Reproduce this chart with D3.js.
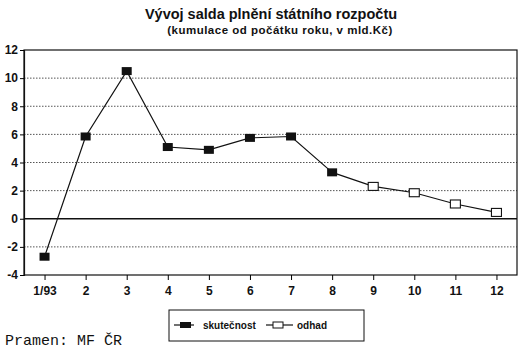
<!DOCTYPE html>
<html>
<head>
<meta charset="utf-8">
<script src="https://cdn.jsdelivr.net/npm/d3@7"></script>
<style>
  body { margin: 0; background: #fff; }
  svg { display: block; }
  text { font-family: "Liberation Sans", Arial, sans-serif; font-weight: bold; fill: #111; }
</style>
</head>
<body>
<div id="chart"></div>
<script>
// --- dati ---
const months = ["1/93","2","3","4","5","6","7","8","9","10","11","12"];
const actualMonths = ["1/93","2","3","4","5","6","7","8"];
const actualValues = [-2.7, 5.85, 10.5, 5.1, 4.9, 5.75, 5.85, 3.3];
const estMonths = ["8","9","10","11","12"];
const estValues = [3.3, 2.3, 1.85, 1.05, 0.45];
const yTicks = [-4, -2, 0, 2, 4, 6, 8, 10, 12];

const W = 521, H = 352;
const margin = { top: 50, right: 4, bottom: 77, left: 24 };
const innerW = W - margin.left - margin.right;
const innerH = H - margin.top - margin.bottom;

const svg = d3.select("#chart").append("svg").attr("width", W).attr("height", H);

// titoli
svg.append("text").attr("x", 271).attr("y", 19).attr("text-anchor", "middle")
  .style("font-size", "14.5px").text("Vývoj salda plnění státního rozpočtu");
svg.append("text").attr("x", 280).attr("y", 34).attr("text-anchor", "middle")
  .style("font-size", "11.5px").style("letter-spacing", "0.5px")
  .text("(kumulace od počátku roku, v mld.Kč)");

const g = svg.append("g").attr("transform", `translate(${margin.left},${margin.top})`);

const x = d3.scalePoint().domain(months).range([0, innerW]).padding(0.5);
const y = d3.scaleLinear().domain([-4, 12]).range([innerH, 0]);

// griglia punteggiata
g.selectAll(".grid").data(yTicks.filter(d => d !== 0 && d !== 12 && d !== -4)).enter()
  .append("line")
  .attr("x1", 0).attr("x2", innerW)
  .attr("y1", d => y(d)).attr("y2", d => y(d))
  .attr("stroke", "#555").attr("stroke-width", 1).attr("stroke-dasharray", "1.5,1.5");

// linea dello zero
g.append("line").attr("x1", 0).attr("x2", innerW).attr("y1", y(0)).attr("y2", y(0))
  .attr("stroke", "#111").attr("stroke-width", 1.3);

// cornice
g.append("rect").attr("width", innerW).attr("height", innerH)
  .attr("fill", "none").attr("stroke", "#111").attr("stroke-width", 1.2);

// asse y (trattino normale invece del segno meno)
const yAxis = g.append("g").call(d3.axisLeft(y).tickValues(yTicks)
  .tickFormat(d => String(d)).tickSize(4).tickPadding(2));
yAxis.select(".domain").attr("stroke", "#111").attr("stroke-width", 1.2);
yAxis.selectAll("text").style("font-size", "12px").style("font-family", "'Liberation Sans', Arial, sans-serif");

// asse x
const xAxis = g.append("g").attr("transform", `translate(0,${innerH})`)
  .call(d3.axisBottom(x).tickSize(5).tickPadding(6));
xAxis.select(".domain").remove();
xAxis.selectAll("text").style("font-size", "12px").style("font-family", "'Liberation Sans', Arial, sans-serif");

const line = d3.line().x(d => x(d.m)).y(d => y(d.v));
const est = estMonths.map((m, i) => ({ m, v: estValues[i] }));
const act = actualMonths.map((m, i) => ({ m, v: actualValues[i] }));

// odhad
g.append("path").datum(est).attr("d", line)
  .attr("fill", "none").attr("stroke", "#111").attr("stroke-width", 1.2);
g.selectAll(".est").data(est.slice(1)).enter().append("rect")
  .attr("x", d => x(d.m) - 5).attr("y", d => y(d.v) - 4)
  .attr("width", 10).attr("height", 8)
  .attr("fill", "#fff").attr("stroke", "#111").attr("stroke-width", 1.1);

// skutečnost
g.append("path").datum(act).attr("d", line)
  .attr("fill", "none").attr("stroke", "#111").attr("stroke-width", 1.2);
g.selectAll(".act").data(act).enter().append("rect")
  .attr("x", d => x(d.m) - 5).attr("y", d => y(d.v) - 4)
  .attr("width", 10).attr("height", 8).attr("fill", "#111");

// legenda
const leg = svg.append("g").attr("transform", "translate(169,310)");
leg.append("rect").attr("width", 195).attr("height", 31)
  .attr("fill", "none").attr("stroke", "#111").attr("stroke-width", 1);
leg.append("line").attr("x1", 5).attr("x2", 25).attr("y1", 15).attr("y2", 15).attr("stroke", "#111").attr("stroke-width", 1.2);
leg.append("rect").attr("x", 11).attr("y", 12).attr("width", 11).attr("height", 6).attr("fill", "#111");
leg.append("text").attr("x", 34).attr("y", 19).style("font-size", "10px").text("skutečnost");
leg.append("line").attr("x1", 97).attr("x2", 124).attr("y1", 15).attr("y2", 15).attr("stroke", "#111").attr("stroke-width", 1.2);
leg.append("rect").attr("x", 104).attr("y", 12).attr("width", 10).attr("height", 6)
  .attr("fill", "#fff").attr("stroke", "#111").attr("stroke-width", 1);
leg.append("text").attr("x", 128).attr("y", 19).style("font-size", "10px").text("odhad");

// fonte
svg.append("text").attr("x", 5).attr("y", 345)
  .style("font-family", "'Liberation Mono', 'Courier New', monospace").style("font-weight", "normal")
  .style("font-size", "15px").text("Pramen: MF ČR");
</script>
</body>
</html>
